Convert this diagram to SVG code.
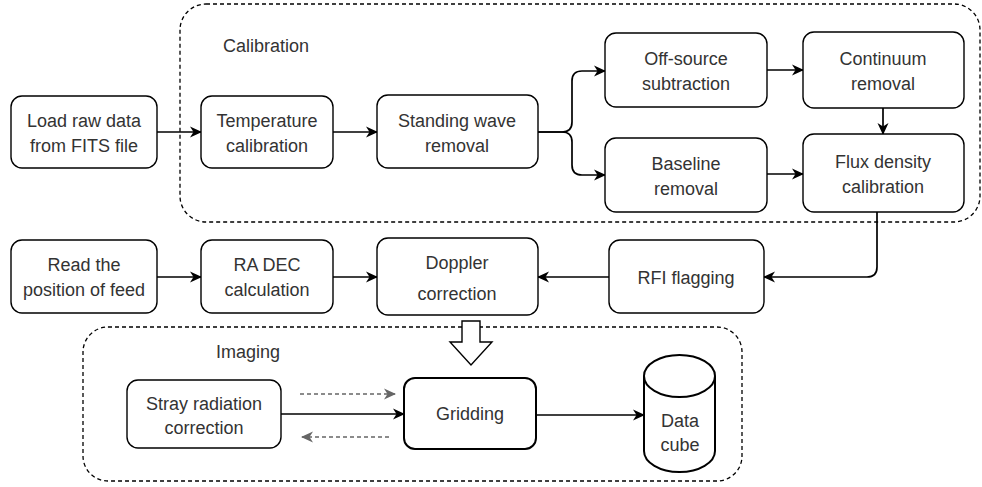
<svg xmlns="http://www.w3.org/2000/svg" width="982" height="487" viewBox="0 0 982 487">
<style>
.box{fill:#fff;stroke:#000;stroke-width:1.4}
.thick{fill:#fff;stroke:#000;stroke-width:2}
.grp{fill:none;stroke:#000;stroke-width:1.3;stroke-dasharray:4 3}
.t{font-family:"Liberation Sans",Arial,sans-serif;font-size:18px;fill:#333;text-anchor:middle}
.tl{font-family:"Liberation Sans",Arial,sans-serif;font-size:18px;fill:#333}
.c{fill:none;stroke:#000;stroke-width:1.7}
.d{fill:none;stroke:#666;stroke-width:1.4;stroke-dasharray:4 3}
</style>
<defs>
<marker id="ah" viewBox="0 0 12 12" refX="11" refY="6" markerWidth="12" markerHeight="12" markerUnits="userSpaceOnUse" orient="auto">
<path d="M0,0.5 L12,6 L0,11.5 L3.5,6 Z" fill="#000"/>
</marker>
<marker id="ag" viewBox="0 0 12 12" refX="11" refY="6" markerWidth="12" markerHeight="12" markerUnits="userSpaceOnUse" orient="auto">
<path d="M0,0.5 L12,6 L0,11.5 L3.5,6 Z" fill="#666"/>
</marker>
</defs>

<g id="calibration-group">
<rect class="grp" x="180" y="4" width="800" height="218" rx="26"/>
<text class="tl" x="223" y="52">Calibration</text>
</g>
<g id="imaging-group">
<rect class="grp" x="83" y="327" width="659" height="154" rx="25"/>
<text class="tl" x="216" y="358">Imaging</text>
</g>

<g id="connectors">
<path class="c" d="M157,132 H201" marker-end="url(#ah)"/>
<path class="c" d="M333,132 H377" marker-end="url(#ah)"/>
<path class="c" d="M538,132 H562 Q572,132 572,122 V81 Q572,71 582,71 H605" marker-end="url(#ah)"/>
<path class="c" d="M538,132 H562 Q572,132 572,142 V165 Q572,175 582,175 H605" marker-end="url(#ah)"/>
<path class="c" d="M767,70 H803" marker-end="url(#ah)"/>
<path class="c" d="M883,108 V134" marker-end="url(#ah)"/>
<path class="c" d="M767,174 H803" marker-end="url(#ah)"/>
<path class="c" d="M877,212 V267 Q877,277 867,277 H764" marker-end="url(#ah)"/>
<path class="c" d="M609,277 H538" marker-end="url(#ah)"/>
<path class="c" d="M157,277 H201" marker-end="url(#ah)"/>
<path class="c" d="M333,277 H377" marker-end="url(#ah)"/>
<path d="M462,321 H480 V342 H492 L471,365 L450,342 H462 Z" fill="#fff" stroke="#000" stroke-width="1.4"/>
<path class="c" d="M281,414 H404" marker-end="url(#ah)"/>
<path class="d" d="M300,394 H395" marker-end="url(#ag)"/>
<path class="d" d="M389,437 H302" marker-end="url(#ag)"/>
<path class="c" d="M536,415 H644" marker-end="url(#ah)"/>
</g>

<g id="load">
<rect class="box" x="11" y="96" width="146" height="72" rx="11"/>
<text class="t" x="84" y="127">Load raw data</text>
<text class="t" x="84" y="152">from FITS file</text>
</g>
<g id="temperature">
<rect class="box" x="201" y="96" width="132" height="72" rx="11"/>
<text class="t" x="267" y="127">Temperature</text>
<text class="t" x="267" y="152">calibration</text>
</g>
<g id="standing">
<rect class="box" x="377" y="95" width="161" height="73" rx="11"/>
<text class="t" x="457" y="127">Standing wave</text>
<text class="t" x="457" y="152">removal</text>
</g>
<g id="offsource">
<rect class="box" x="605" y="33" width="162" height="74" rx="11"/>
<text class="t" x="686" y="65">Off-source</text>
<text class="t" x="686" y="90">subtraction</text>
</g>
<g id="continuum">
<rect class="box" x="803" y="32" width="161" height="76" rx="11"/>
<text class="t" x="883" y="65">Continuum</text>
<text class="t" x="883" y="90">removal</text>
</g>
<g id="baseline">
<rect class="box" x="605" y="138" width="162" height="74" rx="11"/>
<text class="t" x="686" y="170">Baseline</text>
<text class="t" x="686" y="195">removal</text>
</g>
<g id="flux">
<rect class="box" x="803" y="134" width="161" height="78" rx="11"/>
<text class="t" x="883" y="168">Flux density</text>
<text class="t" x="883" y="193">calibration</text>
</g>
<g id="read">
<rect class="box" x="11" y="240" width="146" height="73" rx="11"/>
<text class="t" x="84" y="271">Read the</text>
<text class="t" x="84" y="296">position of feed</text>
</g>
<g id="radec">
<rect class="box" x="201" y="240" width="132" height="73" rx="11"/>
<text class="t" x="267" y="271">RA DEC</text>
<text class="t" x="267" y="296">calculation</text>
</g>
<g id="doppler">
<rect class="box" x="377" y="238" width="161" height="77" rx="11"/>
<text class="t" x="457" y="269">Doppler</text>
<text class="t" x="457" y="300">correction</text>
</g>
<g id="rfi">
<rect class="box" x="609" y="240" width="155" height="73" rx="11"/>
<text class="t" x="686" y="284">RFI flagging</text>
</g>
<g id="stray">
<rect class="box" x="127" y="380" width="154" height="68" rx="11"/>
<text class="t" x="204" y="410">Stray radiation</text>
<text class="t" x="204" y="434">correction</text>
</g>
<g id="gridding">
<rect class="thick" x="404" y="378" width="132" height="71" rx="11"/>
<text class="t" x="470" y="420">Gridding</text>
</g>
<g id="datacube">
<path class="thick" d="M644,376 A35.5,21 0 0 1 715,376 V451 A35.5,21 0 0 1 644,451 Z"/>
<path fill="none" stroke="#000" stroke-width="2" d="M644,376 A35.5,21 0 0 0 715,376"/>
<text class="t" x="680" y="427">Data</text>
<text class="t" x="680" y="451">cube</text>
</g>
</svg>
